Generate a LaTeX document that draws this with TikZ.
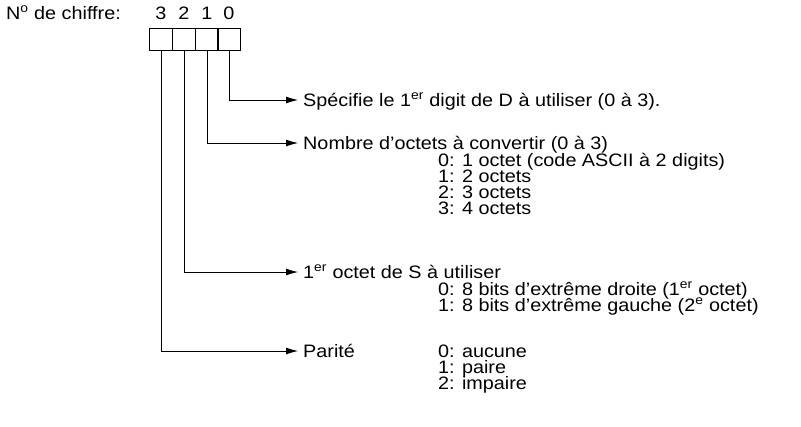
\documentclass[tikz,border=0pt]{standalone}
\usepackage{fontspec}
\setmainfont{Liberation Sans}[FakeStretch=1.1]
\usetikzlibrary{positioning,arrows.meta}
\begin{document}
\begin{tikzpicture}[x=1pt,y=-1pt,
    txt/.style={anchor=base west,inner sep=0pt,font=\fontsize{18}{16}\selectfont},
    cell/.style={draw,thick,minimum width=22.5pt,minimum height=22pt,inner sep=0pt,outer sep=0pt},
    feed/.style={thick,-{Latex[length=12pt,width=7pt]}}]
    \useasboundingbox (0,0) rectangle (801,426);
    % digit label and cells
    \node[txt] (lbl) at (6,19) {N\textsuperscript{o} de chiffre:};
    \foreach \d/\x in {3/161,2/184,1/207,0/229}{
      \node[cell] (c\d) at (\x,39) {};
      \node[txt,anchor=base] (n\d) at (\x,19) {\d};
    }
    % bit 0
    \coordinate (t0) at (298,100);
    \node[txt] (s0) at (303,106) {Spécifie le 1\textsuperscript{er} digit de D à utiliser (0 à 3).};
    \draw[feed] (c0.south) |- (t0);
    % bit 1
    \coordinate (t1) at (298,143);
    \node[txt] (s1) at (303,149) {Nombre d'octets à convertir (0 à 3)};
    \foreach \i/\t in {0/{0: 1 octet (code ASCII à 2 digits)},1/{1: 2 octets},2/{2: 3 octets},3/{3: 4 octets}}
      \node[txt] (d1\i) at (438,166+16*\i) {\t};
    \draw[feed] (c1.south) |- (t1);
    % bit 2
    \coordinate (t2) at (298,272);
    \node[txt] (s2) at (303,278) {1\textsuperscript{er} octet de S à utiliser};
    \node[txt] (d20) at (438,295) {0: 8 bits d'extrême droite (1\textsuperscript{er} octet)};
    \node[txt] (d21) at (438,311) {1: 8 bits d'extrême gauche (2\textsuperscript{e} octet)};
    \draw[feed] (c2.south) |- (t2);
    % bit 3
    \coordinate (t3) at (298,351);
    \node[txt] (s3) at (303,357) {Parité};
    \foreach \i/\t in {0/{0: aucune},1/{1: paire},2/{2: impaire}}
      \node[txt] (d3\i) at (438,357+16*\i) {\t};
    \draw[feed] (c3.south) |- (t3);
\end{tikzpicture}
\end{document}
